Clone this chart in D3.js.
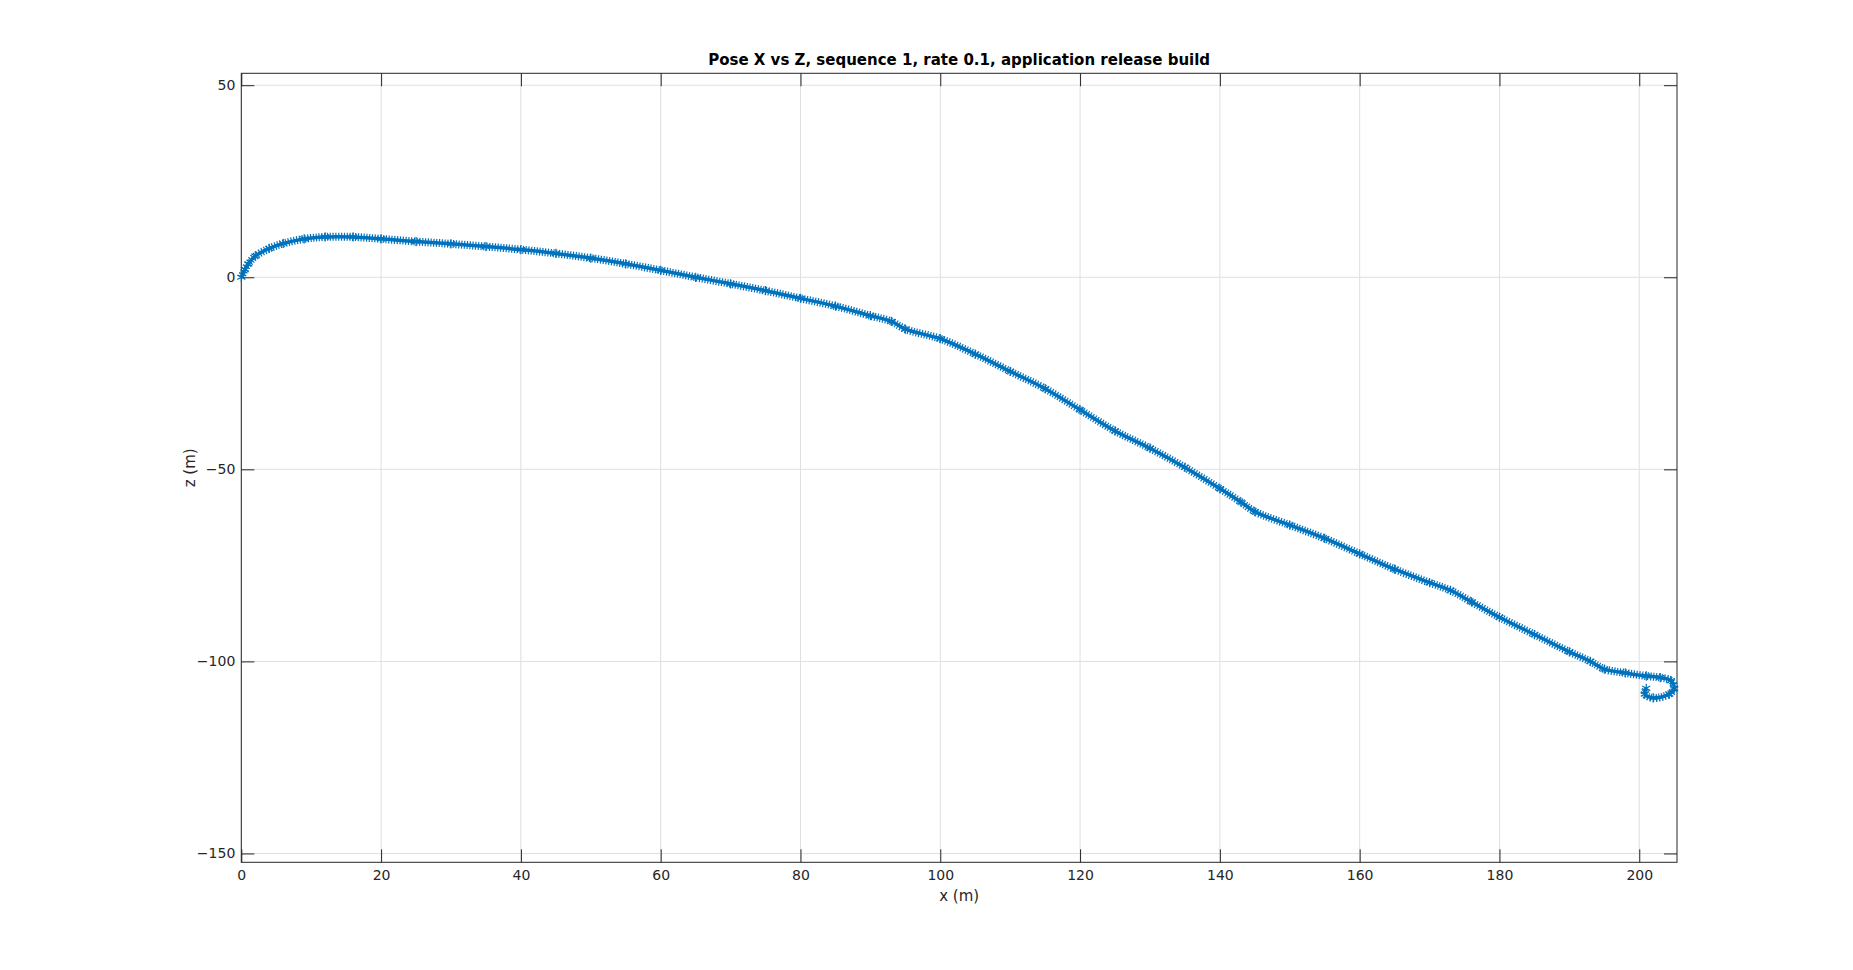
<!DOCTYPE html>
<html><head><meta charset="utf-8">
<script src="https://cdn.jsdelivr.net/npm/d3@7"></script>
<style>body{margin:0;background:#fff;font-family:"DejaVu Sans",sans-serif;}</style>
</head><body><svg id="c" width="1853" height="970"></svg>
<script>
// trajectory (x, z in metres)
const poseX = [0,0.5,1,2,4,6,9,12,16,20,25,30,35,40,45,50,55,60,65,70,75,80,85,90,93,95,100,105,110,115,120,125,130,135,140,143,145,150,155,160,165,170,173,176,180,185,190,193,195,198,201,203,204.5,205,204.3,202,200.8,201];
const poseZ = [0,2,3.5,5.5,7.5,8.8,10,10.5,10.5,10,9.3,8.7,8,7.2,6.2,5,3.5,1.8,0,-1.7,-3.5,-5.5,-7.5,-10,-11.5,-13.5,-16,-20,-24.5,-29,-34.5,-40,-44.5,-49.5,-55,-58.5,-61,-64.5,-68,-72,-76,-79.5,-81.5,-84.5,-88.5,-93,-97.5,-100,-102,-103,-103.8,-104.2,-105,-107,-108.5,-109.5,-108.5,-107];
const xTicks = [0,20,40,60,80,100,120,140,160,180,200];
const zTicks = [50,0,-50,-100,-150];

const m = {left:241.3, right:1677, top:73.3, bottom:862.3};
const svg = d3.select("#c");
const x = d3.scaleLinear().domain([0,205.4]).range([m.left,m.right]);
const y = d3.scaleLinear().domain([-152.3,53.1]).range([m.bottom,m.top]);

// grid
svg.append("g").selectAll("line").data(xTicks).join("line")
  .attr("x1",d=>x(d)).attr("x2",d=>x(d)).attr("y1",m.top).attr("y2",m.bottom)
  .attr("stroke","#dfdfdf");
svg.append("g").selectAll("line").data(zTicks).join("line")
  .attr("y1",d=>y(d)).attr("y2",d=>y(d)).attr("x1",m.left).attr("x2",m.right)
  .attr("stroke","#dfdfdf");

const style = g => {
  g.select(".domain").remove();
  g.selectAll("line").attr("stroke","#262626");
  g.selectAll("text").attr("fill","#262626").style("font-size","14px").style("font-family","DejaVu Sans");
};
svg.append("g").attr("transform",`translate(0,${m.bottom})`)
  .call(d3.axisBottom(x).tickValues(xTicks).tickSize(-13).tickPadding(8)).call(style);
svg.append("g").attr("transform",`translate(0,${m.top})`)
  .call(d3.axisTop(x).tickValues(xTicks).tickSize(-13).tickFormat("")).call(style);
svg.append("g").attr("transform",`translate(${m.left},0)`)
  .call(d3.axisLeft(y).tickValues(zTicks).tickSize(-13).tickPadding(6)).call(style);
svg.append("g").attr("transform",`translate(${m.right},0)`)
  .call(d3.axisRight(y).tickValues(zTicks).tickSize(-13).tickFormat("")).call(style);

svg.append("rect").attr("x",m.left).attr("y",m.top)
  .attr("width",m.right-m.left).attr("height",m.bottom-m.top)
  .attr("fill","none").attr("stroke","#262626");

const pts = poseX.map((v,i)=>[v,poseZ[i]]);
const col = "#0072BD";
const line = d3.line().x(d=>x(d[0])).y(d=>y(d[1])).curve(d3.curveCatmullRom);
svg.append("path").datum(pts).attr("d",line)
  .attr("fill","none").attr("stroke",col).attr("stroke-width",8)
  .attr("stroke-dasharray","1.2 1.6");
svg.append("path").datum(pts).attr("d",line)
  .attr("fill","none").attr("stroke",col).attr("stroke-width",3.5);
svg.append("g").selectAll("path").data(pts).join("path")
  .attr("transform",d=>`translate(${x(d[0])},${y(d[1])})`)
  .attr("d",d3.symbol(d3.symbolAsterisk,60))
  .attr("fill","none").attr("stroke",col).attr("stroke-width",1.2);

svg.append("text").attr("x",(m.left+m.right)/2).attr("y",65).attr("text-anchor","middle")
  .style("font-size","15px").style("font-weight","bold").attr("fill","#000")
  .text("Pose X vs Z, sequence 1, rate 0.1, application release build");
svg.append("text").attr("x",(m.left+m.right)/2).attr("y",901).attr("text-anchor","middle")
  .style("font-size","15px").attr("fill","#262626").text("x (m)");
svg.append("text").attr("transform",`translate(195,${(m.top+m.bottom)/2}) rotate(-90)`)
  .attr("text-anchor","middle").style("font-size","15px").attr("fill","#262626").text("z (m)");
</script></body></html>
